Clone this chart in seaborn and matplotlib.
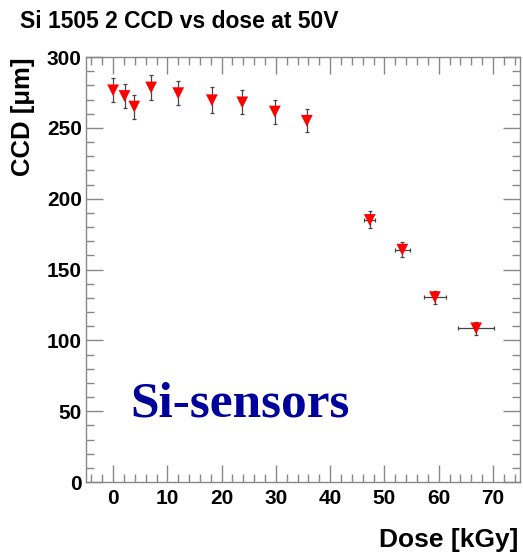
import matplotlib.pyplot as plt
import seaborn as sns
import pandas as pd
from matplotlib.ticker import MultipleLocator

# --- data ---
dose = [0.0, 2.1, 3.9, 7.0, 12.0, 18.2, 23.8, 29.8, 35.7, 47.3, 53.3, 59.3, 66.9]
dose_err = [0, 0, 0, 0, 0, 0, 0, 0, 0, 1.0, 1.4, 2.0, 3.3]
ccd = [276.5, 272.5, 265.0, 278.5, 274.5, 269.5, 268.0, 261.5, 255.0, 185.0, 164.0, 130.5, 108.5]
ccd_err = [8.5, 8.5, 8.5, 9.0, 8.5, 9.0, 8.5, 8.5, 8.0, 6.0, 5.5, 4.5, 4.5]

title_text = "Si 1505 2 CCD vs dose at 50V"
xlabel_text = "Dose [kGy]"
ylabel_text = "CCD [\u03bcm]"
note_text = "Si-sensors"

df = pd.DataFrame({"dose": dose, "dose_err": dose_err, "ccd": ccd, "ccd_err": ccd_err})

sns.set_theme(style="ticks")
plt.rcParams["font.family"] = ["Liberation Sans", "DejaVu Sans"]
plt.rcParams["text.color"] = "black"

fig = plt.figure(figsize=(5.23, 5.57), dpi=100)
ax = fig.add_axes([0.1644, 0.1346, 0.83, 0.763])

# error bars (ROOT style, thin grey)
ax.errorbar(df["dose"], df["ccd"], xerr=df["dose_err"], yerr=df["ccd_err"],
            fmt="none", ecolor="#444444", elinewidth=0.9, capsize=1.5, capthick=0.9, zorder=2)

sns.scatterplot(data=df, x="dose", y="ccd", marker="v", color="#ff0000",
                s=72, edgecolor="none", ax=ax, zorder=3)

ax.set_xlim(-5, 75)
ax.set_ylim(0, 300)
ax.xaxis.set_major_locator(MultipleLocator(10))
ax.xaxis.set_minor_locator(MultipleLocator(2))
ax.yaxis.set_major_locator(MultipleLocator(50))
ax.yaxis.set_minor_locator(MultipleLocator(10))

ax.tick_params(axis="both", which="both", direction="in", top=True, right=True,
               color="#888888", labelcolor="black")
ax.tick_params(axis="both", which="major", length=12, width=1.0, labelsize=15)
ax.tick_params(axis="x", which="major", pad=5)
ax.tick_params(axis="y", which="major", pad=3)
ax.tick_params(axis="both", which="minor", length=6, width=1.0)
for label in ax.get_xticklabels() + ax.get_yticklabels():
    label.set_fontweight("bold")
    label.set_color("black")

for spine in ax.spines.values():
    spine.set_color("#888888")
    spine.set_linewidth(1.0)

ax.set_xlabel("")
ax.set_ylabel("")
fig.text(0.991, 0.018, xlabel_text, ha="right", va="baseline",
         fontsize=19, fontweight="bold", color="black")
fig.text(0.044, 0.8977, ylabel_text, ha="center", va="top", rotation=90,
         fontsize=18.5, fontweight="bold", color="black")
fig.text(0.038, 0.95, title_text, ha="left", va="baseline",
         fontsize=16.5, fontweight="bold", color="black")

ax.text(0.103, 0.154, note_text, transform=ax.transAxes, ha="left", va="baseline",
        fontsize=37, fontweight="bold", color="#00009a",
        family=["Liberation Serif", "DejaVu Serif"])

ax.grid(False)
fig.savefig("out.png", dpi=100)
